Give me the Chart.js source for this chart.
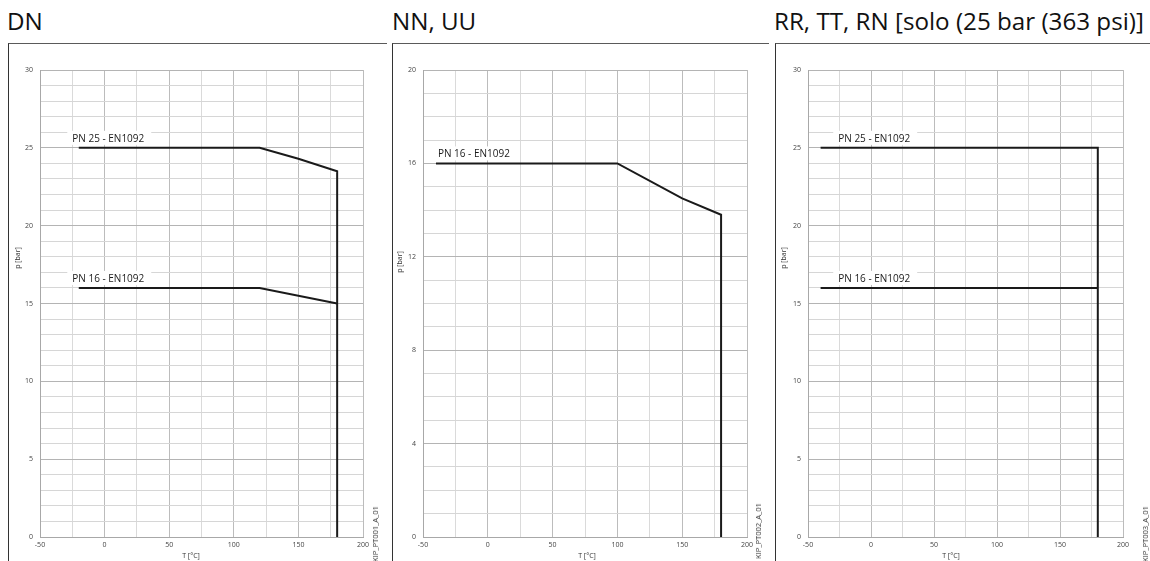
<!DOCTYPE html>
<html><head><meta charset="utf-8">
<script src="https://cdn.jsdelivr.net/npm/chart.js@4.4.0/dist/chart.umd.min.js"></script>
<style>
html,body{margin:0;padding:0;background:#fff;}
body{width:1150px;height:561px;position:relative;overflow:hidden;font-family:"Open Sans",sans-serif;}
.title{position:absolute;top:7px;font-family:"Open Sans",sans-serif;font-size:24.2px;line-height:28px;color:#111;white-space:nowrap;}
.box{position:absolute;top:43px;height:540px;border-top:1.5px solid #5a5a5a;border-left:1.5px solid #333;}
.cv{position:absolute;top:45px;}
.ctr{position:absolute;transform:translate(-50%,-50%);white-space:nowrap;color:#333;font-family:"Open Sans",sans-serif;font-size:7px;line-height:8px;}
.rotc{transform:translate(-50%,-50%) rotate(-90deg);}
.code{position:absolute;writing-mode:vertical-rl;transform:rotate(180deg);white-space:nowrap;color:#333;font-family:"Open Sans",sans-serif;font-size:7.5px;line-height:8px;}
</style>
</head><body>
<div class="box" style="left:8px;width:378px"></div>
<div class="box" style="left:392px;width:376px"></div>
<div class="box" style="left:775px;width:380px"></div>
<div class="title" id="t0" style="left:7px"></div>
<div class="title" id="t1" style="left:392px"></div>
<div class="title" id="t2" style="left:774px"></div>
<canvas class="cv" id="c0" width="381" height="516" style="left:10px;width:381px;height:516px"></canvas>
<canvas class="cv" id="c1" width="376" height="516" style="left:394px;width:376px;height:516px"></canvas>
<canvas class="cv" id="c2" width="373" height="516" style="left:777px;width:373px;height:516px"></canvas>
<div class="ctr rotc" id="y0" style="left:17.5px;top:258px"></div>
<div class="ctr rotc" id="y1" style="left:400px;top:262px"></div>
<div class="ctr rotc" id="y2" style="left:784px;top:258px"></div>
<div class="ctr" id="x0" style="left:191px;top:556px"></div>
<div class="ctr" id="x1" style="left:587px;top:556px"></div>
<div class="ctr" id="x2" style="left:951px;top:556px"></div>
<div class="code" id="k0" style="left:371px;top:506px"></div>
<div class="code" id="k1" style="left:754px;top:503px"></div>
<div class="code" id="k2" style="left:1141px;top:506px"></div>
<script>
// ---- data ----
const panelTitles = ["DN", "NN, UU", "RR, TT, RN [solo (25 bar (363 psi)]"];
const seriesNames = ["PN 25 - EN1092", "PN 16 - EN1092"];
const drawingCodes = ["KIP_PT001_A_01", "KIP_PT002_A_01", "KIP_PT003_A_01"];
const xAxisTitle = "T [°C]";
const yAxisTitle = "p [bar]";
const xMin = -50, xMax = 200;
const yMaxes = [30, 20, 30];
const yLabelSteps = [5, 4, 5];

// Panel 1 (DN)
const dnTemp25 = [-20, 120, 150, 180, 180];
const dnPres25 = [25, 25, 24.3, 23.5, 0];
const dnTemp16 = [-20, 120, 180];
const dnPres16 = [16, 16, 15];
// Panel 2 (NN, UU)
const nnTemp16 = [-40, 100, 150, 180, 180];
const nnPres16 = [16, 16, 14.5, 13.8, 0];
// Panel 3 (RR, TT, RN)
const rrTemp25 = [-40, 180, 180];
const rrPres25 = [25, 25, 0];
const rrTemp16 = [-40, 180];
const rrPres16 = [16, 16];

// label anchor temperature (start of label text) per panel
const labelTemps = [-25, -38.5, -26];

const panels = [
  {series: [[seriesNames[0], dnTemp25, dnPres25], [seriesNames[1], dnTemp16, dnPres16]], yW: 30, padR: 28},
  {series: [[seriesNames[1], nnTemp16, nnPres16]], yW: 29, padR: 23},
  {series: [[seriesNames[0], rrTemp25, rrPres25], [seriesNames[1], rrTemp16, rrPres16]], yW: 31, padR: 27}
];

const seriesLabelPlugin = {
  id: 'seriesLabels',
  afterDatasetsDraw(chart, args, opts) {
    const ctx = chart.ctx, xs = chart.scales.x, ys = chart.scales.y;
    ctx.save();
    ctx.font = '10px "Open Sans", sans-serif';
    ctx.textBaseline = 'middle';
    chart.data.datasets.forEach(ds => {
      const x = xs.getPixelForValue(opts.labelTemp);
      const y = ys.getPixelForValue(ds.data[0].y) - 9;
      const w = ctx.measureText(ds.label).width;
      ctx.fillStyle = '#fff';
      ctx.fillRect(x - 5, y - 8, w + 12, 14);
      ctx.fillStyle = '#1a1a1a';
      ctx.fillText(ds.label, x, y);
    });
    ctx.restore();
  }
};

panels.forEach((p, i) => {
  document.getElementById('t' + i).textContent = panelTitles[i];
  document.getElementById('y' + i).textContent = yAxisTitle;
  document.getElementById('x' + i).textContent = xAxisTitle;
  document.getElementById('k' + i).textContent = drawingCodes[i];
  const yMax = yMaxes[i], step = yLabelSteps[i];
  new Chart(document.getElementById('c' + i), {
    type: 'scatter',
    data: {
      datasets: p.series.map(s => ({
        label: s[0],
        data: s[1].map((t, j) => ({x: t, y: s[2][j]})),
        showLine: true, borderColor: '#1a1a1a', borderWidth: 2,
        pointRadius: 0, fill: false, tension: 0
      }))
    },
    options: {
      responsive: false, animation: false, devicePixelRatio: 1,
      layout: {padding: {top: 25, right: p.padR, left: 0, bottom: 0}},
      plugins: {legend: {display: false}, tooltip: {enabled: false},
        seriesLabels: {labelTemp: labelTemps[i]}},
      scales: {
        x: {
          type: 'linear', min: xMin, max: xMax,
          ticks: {stepSize: 25, autoSkip: false, maxRotation: 0, padding: 4,
            color: '#444', font: {size: 7, family: '"Open Sans", sans-serif'},
            callback: v => (v % 50 === 0 ? String(v) : '')},
          grid: {drawTicks: false, lineWidth: 1,
            color: c => (c.tick && c.tick.value % 50 === 0 ? '#bcbcbc' : '#dadada')},
          border: {color: '#a8a8a8'},
          afterFit: s => { s.height = 24; }
        },
        y: {
          type: 'linear', min: 0, max: yMax,
          ticks: {stepSize: 1, autoSkip: false, padding: 7,
            color: '#444', font: {size: 7, family: '"Open Sans", sans-serif'},
            callback: v => (v % step === 0 ? String(v) : '')},
          grid: {drawTicks: false, lineWidth: 1,
            color: c => (c.tick && c.tick.value % step === 0 ? '#b4b4b4' : '#d6d6d6')},
          border: {color: '#a8a8a8'},
          afterFit: s => { s.width = p.yW; }
        }
      }
    },
    plugins: [seriesLabelPlugin]
  });
});
</script>
</body></html>
